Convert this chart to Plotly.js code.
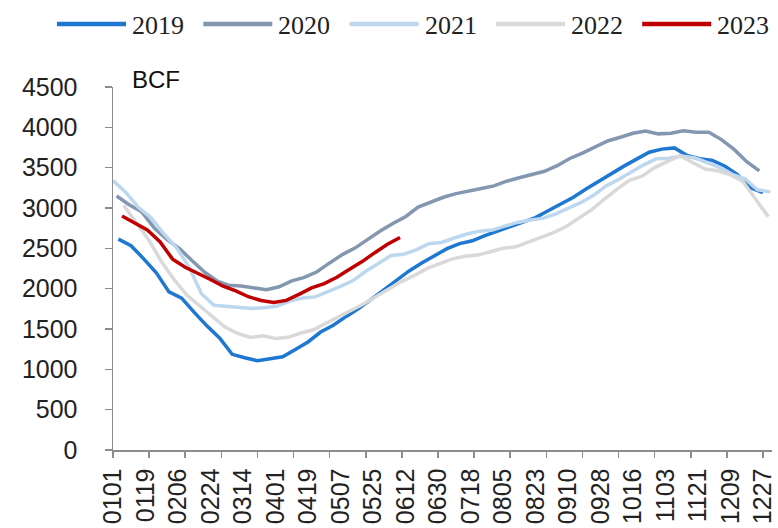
<!DOCTYPE html>
<html>
<head>
<meta charset="utf-8">
<script src="https://cdn.plot.ly/plotly-3.0.1.min.js"></script>
<style>
  html, body { margin: 0; padding: 0; background: #ffffff; }
  #chart { width: 778px; height: 528px; }
</style>
</head>
<body>
<div id="chart"></div>
<script>
// ---- Data (weekly storage, BCF) ----
const dates2019 = ["0104","0111","0118","0125","0201","0208","0215","0222","0301","0308","0315","0322","0329","0405","0412","0419","0426","0503","0510","0517","0524","0531","0607","0614","0621","0628","0705","0712","0719","0726","0802","0809","0816","0823","0830","0906","0913","0920","0927","1004","1011","1018","1025","1101","1108","1115","1122","1129","1206","1213","1220","1227"];
const values2019 = [2614,2533,2370,2197,1960,1883,1706,1539,1390,1186,1143,1107,1130,1155,1247,1339,1462,1547,1653,1753,1867,1986,2105,2220,2318,2407,2496,2558,2594,2659,2714,2763,2822,2881,2965,3049,3133,3235,3331,3429,3519,3606,3692,3730,3745,3650,3610,3591,3518,3411,3250,3192];

const dates2020 = ["0103","0110","0117","0124","0131","0207","0214","0221","0228","0306","0313","0320","0327","0403","0410","0417","0424","0501","0508","0515","0522","0529","0605","0612","0619","0626","0703","0710","0717","0724","0731","0807","0814","0821","0828","0904","0911","0918","0925","1002","1009","1016","1023","1030","1106","1113","1120","1127","1204","1211","1218","1225"];
const values2020 = [3149,3040,2949,2747,2609,2494,2343,2200,2091,2043,2034,2005,1986,2024,2097,2140,2210,2319,2422,2503,2612,2714,2807,2892,3012,3077,3133,3178,3215,3241,3274,3332,3375,3420,3455,3525,3614,3680,3756,3831,3877,3926,3955,3919,3927,3958,3940,3939,3848,3726,3574,3460];

const dates2021 = ["0101","0108","0115","0122","0129","0205","0212","0219","0226","0305","0312","0319","0326","0402","0409","0416","0423","0430","0507","0514","0521","0528","0604","0611","0618","0625","0702","0709","0716","0723","0730","0806","0813","0820","0827","0903","0910","0917","0924","1001","1008","1015","1022","1029","1105","1112","1119","1126","1203","1210","1217","1224","1231"];
const values2021 = [3340,3196,3009,2881,2684,2513,2275,1937,1793,1780,1769,1755,1764,1784,1845,1883,1898,1958,2029,2100,2215,2313,2411,2427,2482,2557,2573,2628,2677,2713,2726,2775,2821,2850,2871,2923,2990,3066,3154,3272,3353,3445,3535,3611,3618,3644,3623,3564,3505,3417,3362,3226,3200];

const dates2022 = ["0107","0114","0121","0128","0204","0211","0218","0225","0304","0311","0318","0325","0401","0408","0415","0422","0429","0506","0513","0520","0527","0603","0610","0617","0624","0701","0708","0715","0722","0729","0805","0812","0819","0826","0902","0909","0916","0923","0930","1007","1014","1021","1028","1104","1111","1118","1125","1202","1209","1216","1223","1230"];
const values2022 = [3030,2816,2597,2329,2107,1917,1788,1649,1525,1446,1395,1415,1382,1397,1450,1490,1567,1643,1732,1812,1902,1999,2091,2165,2251,2311,2369,2401,2416,2457,2501,2519,2579,2640,2694,2771,2874,2977,3106,3231,3342,3394,3501,3580,3650,3564,3483,3462,3412,3325,3112,2891];

const dates2023 = ["0106","0113","0120","0127","0203","0210","0217","0224","0303","0310","0317","0324","0331","0407","0414","0421","0428","0505","0512","0519","0526","0602","0609"];
const values2023 = [2902,2820,2729,2583,2366,2266,2195,2114,2030,1972,1900,1853,1830,1855,1930,2009,2063,2141,2240,2336,2446,2550,2634];

const seriesNames = ["2019","2020","2021","2022","2023"];
const seriesColors = ["#1E78D2","#8497B0","#BDD7EE","#D9D9D9","#C00000"];
const unitLabel = "BCF";

// all years are placed on one common calendar year so that MMDD lines up
const toDate = mmdd => "2023-" + mmdd.slice(0,2) + "-" + mmdd.slice(2,4);

const allDates = [dates2019, dates2020, dates2021, dates2022, dates2023];
const allValues = [values2019, values2020, values2021, values2022, values2023];

const DAY = 86400000;
const fontSans = "'Liberation Sans', Arial, sans-serif";
const fontSerif = "'Liberation Serif', 'Times New Roman', serif";

// plot-area geometry (pixels) used to place the legend in paper units
const W = 778, H = 528;
const M = { l: 113, r: 6, t: 87, b: 78 };
const plotW = W - M.l - M.r, plotH = H - M.t - M.b;
const pxX = px => (px - M.l) / plotW;
const pxY = py => (H - M.b - py) / plotH;

const traces = seriesNames.map((name, i) => ({
  type: "scatter",
  mode: "lines",
  name: name,
  x: allDates[i].map(toDate),
  y: allValues[i],
  line: { color: seriesColors[i], width: 3.5 },
  hoverinfo: "x+y+name",
  showlegend: false
}));

// carrier trace for the secondary (tick-mark only) x axis
traces.push({
  type: "scatter", mode: "lines", x: [], y: [],
  xaxis: "x2", yaxis: "y", showlegend: false, hoverinfo: "skip"
});

// legend drawn as swatch lines + labels (long swatches as in the reference)
const legendStart = 57, legendStep = 146.3, swatchLen = 69, legendY = 24;
const legendShapes = seriesNames.map((name, i) => ({
  type: "line", xref: "paper", yref: "paper",
  x0: pxX(legendStart + i * legendStep), x1: pxX(legendStart + i * legendStep + swatchLen),
  y0: pxY(legendY), y1: pxY(legendY),
  line: { color: seriesColors[i], width: 4.5 }
}));
const legendLabels = seriesNames.map((name, i) => ({
  text: name, xref: "paper", yref: "paper",
  x: pxX(legendStart + i * legendStep + swatchLen + 4), y: pxY(legendY + 1),
  xanchor: "left", yanchor: "middle", showarrow: false,
  font: { family: fontSerif, size: 26, color: "#222222" }
}));

const layout = {
  width: W,
  height: H,
  margin: M,
  paper_bgcolor: "#ffffff",
  plot_bgcolor: "#ffffff",
  showlegend: false,
  xaxis: {
    type: "date",
    range: ["2023-01-01", "2024-01-01"],
    tickmode: "linear",
    tick0: "2023-01-01",
    dtick: 18 * DAY,
    tickformat: "%m%d",
    tickangle: -90,
    ticks: "outside",
    ticklen: 7,
    tickcolor: "rgba(0,0,0,0)",
    ticklabelstandoff: 0,
    showgrid: false,
    zeroline: false,
    showline: true,
    linecolor: "#8c8c8c",
    linewidth: 1.5,
    tickfont: { family: fontSans, size: 25, color: "#222222" },
    fixedrange: true
  },
  xaxis2: {
    type: "date",
    overlaying: "x",
    matches: "x",
    anchor: "y",
    side: "bottom",
    tickmode: "linear",
    tick0: "2023-01-01",
    dtick: 20 * DAY,
    ticks: "outside",
    ticklen: 7,
    tickwidth: 1.5,
    tickcolor: "#8c8c8c",
    showticklabels: false,
    showgrid: false,
    zeroline: false,
    showline: false
  },
  yaxis: {
    range: [0, 4500],
    tickmode: "linear",
    tick0: 0,
    dtick: 500,
    ticks: "outside",
    ticklen: 7,
    tickwidth: 1.5,
    tickcolor: "#8c8c8c",
    ticklabelstandoff: 22,
    showgrid: false,
    zeroline: false,
    showline: true,
    linecolor: "#8c8c8c",
    linewidth: 1.5,
    tickfont: { family: fontSans, size: 25, color: "#222222" },
    fixedrange: true
  },
  shapes: legendShapes,
  annotations: [{
    text: unitLabel,
    xref: "paper", yref: "paper",
    x: pxX(156), y: pxY(80),
    xanchor: "center", yanchor: "middle",
    showarrow: false,
    font: { family: fontSans, size: 24, color: "#111111" }
  }].concat(legendLabels)
};

Plotly.newPlot("chart", traces, layout, { displayModeBar: false, staticPlot: true });
</script>
</body>
</html>
